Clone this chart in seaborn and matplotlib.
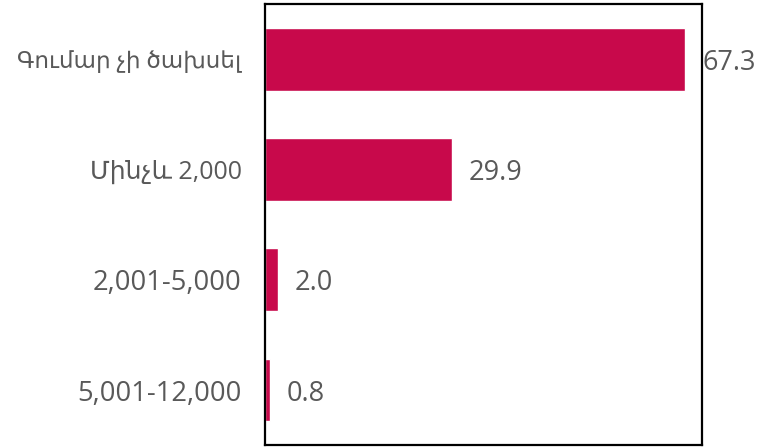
import numpy as np
import pandas as pd
import seaborn as sns
import matplotlib
matplotlib.use("Agg")
import matplotlib.pyplot as plt

# data
categories = ["Գումար չի ծախսել", "Մինչև 2,000", "2,001-5,000", "5,001-12,000"]
values = [67.3, 29.9, 2.0, 0.8]
label_sizes = [16.6, 18, 19.7, 19.7]

data = pd.DataFrame({"category": categories, "value": values})

sns.set_style("white")
# Open Sans for digits, DejaVu Sans for the Armenian letters
plt.rcParams['font.family'] = ['Open Sans', 'DejaVu Sans']

fig, ax = plt.subplots(figsize=(7.6, 4.47), dpi=100)
fig.subplots_adjust(left=0.349, right=0.924, top=0.991, bottom=0.004)

sns.barplot(data=data, x="value", y="category", color="#C8094B", width=0.57,
            saturation=1, ax=ax)

for i, v in enumerate(values):
    ax.text(v + 2.7, i, f"{v:.1f}", va="center_baseline", ha="left",
            fontsize=19.5, color="#595959")

ax.set_xlim(0, 70)
ax.set_ylim(3.5, -0.5)
ax.set_xlabel("")
ax.set_ylabel("")
ax.set_xticks([])
ax.tick_params(axis="y", length=0, pad=17, labelcolor="#595959")
for lab, fs in zip(ax.get_yticklabels(), label_sizes):
    lab.set_fontsize(fs)
for s in ax.spines.values():
    s.set_color("black")
    s.set_linewidth(1.6)

plt.savefig("out.png", dpi=100)
